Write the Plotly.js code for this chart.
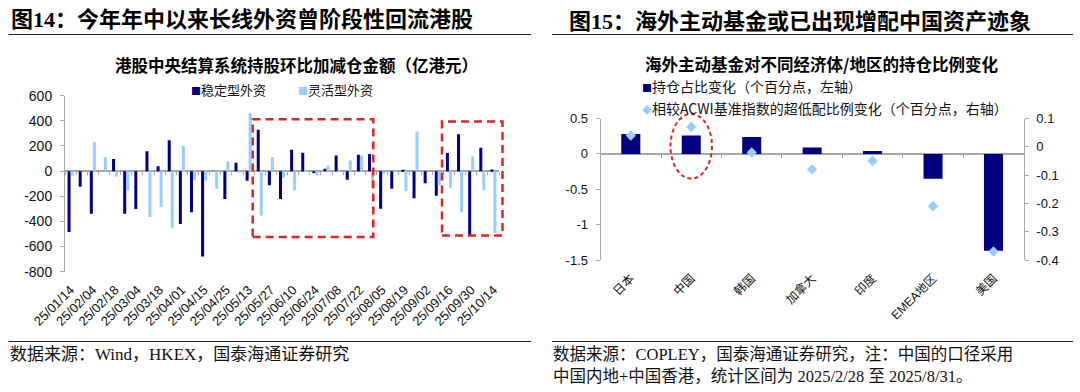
<!DOCTYPE html>
<html>
<head>
<meta charset="utf-8">
<script src="https://cdn.plot.ly/plotly-3.0.1.min.js"></script>
<style>
html,body{margin:0;padding:0;background:#ffffff;}
#chart{width:1080px;height:392px;}
</style>
</head>
<body>
<div id="chart"></div>
<script>
// ---------------- Left chart data (亿港元) ----------------
const dates = [
  '25/01/14','25/01/21','25/02/04','25/02/11','25/02/18','25/02/25','25/03/04','25/03/11',
  '25/03/18','25/03/25','25/04/01','25/04/08','25/04/15','25/04/17','25/04/25','25/05/06',
  '25/05/13','25/05/20','25/05/27','25/06/03','25/06/10','25/06/17','25/06/24','25/07/02',
  '25/07/08','25/07/15','25/07/22','25/07/29','25/08/05','25/08/12','25/08/19','25/08/26',
  '25/09/02','25/09/09','25/09/16','25/09/23','25/09/30','25/10/08','25/10/14'
];
const stableFlow = [
  -485, -125, -340, 0, 96, -340, -302, 158,
  38, 245, -420, -327, -680, 0, -222, 66,
  -76, 330, -112, -222, 171, 146, -16, 19,
  125, -69, 131, 136, -300, -141, 5, -215,
  -96, -196, 144, 293, -512, 186, 13
];
const flexibleFlow = [
  -36, 0, 231, 110, -42, -151, 0, -364,
  -287, -451, 200, -69, -74, -141, 77, -5,
  463, -353, 112, -53, -154, 5, -35, 42,
  9, 85, 125, -133, -25, 10, -160, 316,
  0, -113, -133, -327, 117, -152, -492
];
const leftYTickVals = [-800, -600, -400, -200, 0, 200, 400, 600];
const leftYTickText = ['-800', '-600', '-400', '-200', '0', '200', '400', '600'];
const labeledDates = dates.filter((d, i) => i % 2 === 0);

// ---------------- Right chart data (个百分点) ----------------
const regions = ['日本', '中国', '韩国', '加拿大', '印度', 'EMEA地区', '美国'];
const holdingChange = [0.28, 0.26, 0.24, 0.09, 0.04, -0.35, -1.37];
const overweightChange = [0.04, 0.07, -0.02, -0.08, -0.05, -0.21, -0.37];
const rightLeftTickVals = [-1.5, -1, -0.5, 0, 0.5];
const rightLeftTickText = ['-1.5', '-1', '-0.5', '0', '0.5'];
const rightRightTickVals = [-0.4, -0.3, -0.2, -0.1, 0, 0.1];
const rightRightTickText = ['-0.4', '-0.3', '-0.2', '-0.1', '0', '0.1'];

// ---------------- Geometry helpers ----------------
const W = 1080, H = 392;
const fx = p => p / W;
const fy = p => 1 - p / H;
const zeroPos = (dom, rng) => dom[0] + (0 - rng[0]) / (rng[1] - rng[0]) * (dom[1] - dom[0]);

const NAVY = '#000080';
const LIGHT = '#99CCFF';
const AXIS = '#A6A6A6';
const RED = '#E02424';
const SANS = 'Liberation Sans, Noto Sans CJK SC, sans-serif';
const CJK = 'Noto Sans CJK SC, Liberation Sans, sans-serif';
const SERIF = 'Liberation Serif, Noto Sans CJK SC, serif';

const leftXDom = [fx(65), fx(499)];
const leftYDom = [fy(271.7), fy(95.7)];
const leftYRange = [-800, 600];
const rightXDom = [fx(600.6), fx(1023.7)];
const rightYDom = [fy(260), fy(118.5)];
const rightYRange = [-1.5, 0.5];

const traces = [
  {type: 'bar', name: '稳定型外资', x: dates, y: stableFlow, xaxis: 'x', yaxis: 'y',
   marker: {color: NAVY}, hoverinfo: 'x+y+name'},
  {type: 'bar', name: '灵活型外资', x: dates, y: flexibleFlow, xaxis: 'x', yaxis: 'y',
   marker: {color: LIGHT}, hoverinfo: 'x+y+name'},
  // helper trace so the boundary-tick axis is drawn
  {type: 'scatter', mode: 'markers', x: dates, y: dates.map(() => null), xaxis: 'x3', yaxis: 'y',
   showlegend: false, hoverinfo: 'skip'},
  {type: 'bar', name: '持仓占比变化（个百分点，左轴）', x: regions, y: holdingChange,
   xaxis: 'x2', yaxis: 'y2', width: 0.315, marker: {color: NAVY}},
  {type: 'scatter', mode: 'markers', x: regions, y: regions.map(() => null), xaxis: 'x4', yaxis: 'y2',
   showlegend: false, hoverinfo: 'skip'},
  {type: 'scatter', mode: 'markers', name: '相较ACWI基准指数的超低配比例变化（个百分点，右轴）',
   x: regions, y: overweightChange, xaxis: 'x2', yaxis: 'y3',
   marker: {symbol: 'diamond', size: 8, color: LIGHT}}
];

const annotations = [
  {text: '<b>图14：今年年中以来长线外资曾阶段性回流港股</b>', x: fx(10), y: fy(20), xanchor: 'left', yanchor: 'middle',
   font: {family: SERIF, size: 22, color: '#000'}},
  {text: '<b>图15：海外主动基金或已出现增配中国资产迹象</b>', x: fx(568), y: fy(21), xanchor: 'left', yanchor: 'middle',
   font: {family: SERIF, size: 22, color: '#000'}},
  {text: '<b>港股中央结算系统持股环比加减仓金额（亿港元）</b>', x: fx(296), y: fy(64.5), xanchor: 'center', yanchor: 'middle',
   font: {family: CJK, size: 16.5, color: '#000'}},
  {text: '<b>海外主动基金对不同经济体/地区的持仓比例变化</b>', x: fx(821), y: fy(64), xanchor: 'center', yanchor: 'middle',
   font: {family: CJK, size: 16.5, color: '#000'}},
  {text: '<span style="color:' + NAVY + ';font-size:10px">■</span>稳定型外资', x: fx(190), y: fy(90), xanchor: 'left', yanchor: 'middle',
   font: {family: CJK, size: 13, color: '#111'}},
  {text: '<span style="color:' + LIGHT + ';font-size:10px">■</span>灵活型外资', x: fx(297), y: fy(90), xanchor: 'left', yanchor: 'middle',
   font: {family: CJK, size: 13, color: '#111'}},
  {text: '<span style="color:' + NAVY + ';font-size:10px">■</span>持仓占比变化（个百分点，左轴）', x: fx(641), y: fy(86), xanchor: 'left', yanchor: 'middle',
   font: {family: CJK, size: 14, color: '#111'}},
  {text: '<span style="color:' + LIGHT + ';font-size:10px">◆</span>相较ACWI基准指数的超低配比例变化（个百分点，右轴）', x: fx(641), y: fy(107.5), xanchor: 'left', yanchor: 'middle',
   font: {family: CJK, size: 14, color: '#111'}},
  {text: '数据来源：Wind，HKEX，国泰海通证券研究', x: fx(9), y: fy(354), xanchor: 'left', yanchor: 'middle',
   font: {family: SERIF, size: 17, color: '#111'}},
  {text: '数据来源：COPLEY，国泰海通证券研究，注：中国的口径采用', x: fx(552), y: fy(354), xanchor: 'left', yanchor: 'middle',
   font: {family: SERIF, size: 16.5, color: '#111'}},
  {text: '中国内地+中国香港，统计区间为 2025/2/28 至 2025/8/31。', x: fx(552), y: fy(376), xanchor: 'left', yanchor: 'middle',
   font: {family: SERIF, size: 16.5, color: '#111'}}
].map(a => Object.assign({xref: 'paper', yref: 'paper', showarrow: false, align: 'left', borderpad: 0}, a));

const shapes = [
  // title underlines
  {type: 'line', x0: fx(8.5), x1: fx(531), y0: fy(34.5), y1: fy(34.5), line: {color: '#222', width: 1}},
  {type: 'line', x0: fx(552), x1: fx(1073), y0: fy(34.5), y1: fy(34.5), line: {color: '#222', width: 1}},
  // footer lines
  {type: 'line', x0: fx(8.5), x1: fx(531), y0: fy(341.5), y1: fy(341.5), line: {color: '#222', width: 1}},
  {type: 'line', x0: fx(552), x1: fx(1073), y0: fy(341.5), y1: fy(341.5), line: {color: '#222', width: 1}},
  // red dashed highlight boxes (left chart)
  {type: 'rect', x0: fx(252.7), x1: fx(373.3), y0: fy(237), y1: fy(119.3), line: {color: RED, width: 2.5, dash: '8px,5px'}},
  {type: 'rect', x0: fx(442), x1: fx(502.5), y0: fy(235.5), y1: fy(121.5), line: {color: RED, width: 2.5, dash: '8px,5px'}},
  // red dashed ellipse (right chart, 中国)
  {type: 'circle', x0: fx(670.5), x1: fx(712), y0: fy(178.6), y1: fy(113.9), line: {color: RED, width: 2, dash: '4px,3px'}}
].map(s => Object.assign({xref: 'paper', yref: 'paper', layer: 'above'}, s));

const layout = {
  width: W, height: H,
  margin: {l: 0, r: 0, t: 0, b: 0, pad: 0},
  paper_bgcolor: '#ffffff', plot_bgcolor: 'rgba(0,0,0,0)',
  showlegend: false,
  barmode: 'group', bargap: 0.46, bargroupgap: 0,
  font: {family: SANS, color: '#111', size: 13},
  xaxis: {
    domain: leftXDom, anchor: 'y', type: 'category',
    categoryorder: 'array', categoryarray: dates, range: [-0.5, dates.length - 0.5],
    tickmode: 'array', tickvals: labeledDates, ticktext: labeledDates,
    tickangle: -45, tickfont: {family: SANS, size: 13, color: '#111'},
    ticks: '', ticklabelstandoff: 7,
    showline: false, showgrid: false, zeroline: false, fixedrange: true
  },
  xaxis3: {
    overlaying: 'x', anchor: 'free', position: zeroPos(leftYDom, leftYRange),
    type: 'category', categoryorder: 'array', categoryarray: dates, range: [-0.5, dates.length - 0.5],
    tickmode: 'linear', tick0: 0, dtick: 1, tickson: 'boundaries',
    ticks: 'outside', ticklen: 3, tickwidth: 1, tickcolor: AXIS,
    showticklabels: false, showline: false, showgrid: false, zeroline: false, fixedrange: true
  },
  yaxis: {
    domain: leftYDom, anchor: 'x', range: leftYRange,
    tickmode: 'array', tickvals: leftYTickVals, ticktext: leftYTickText,
    tickfont: {family: SANS, size: 14, color: '#111'},
    showline: true, linecolor: AXIS, linewidth: 1,
    ticks: 'outside', ticklen: 4, tickwidth: 1, tickcolor: AXIS, ticklabelstandoff: 5,
    showgrid: false, zeroline: true, zerolinecolor: AXIS, zerolinewidth: 2, fixedrange: true
  },
  xaxis2: {
    domain: rightXDom, anchor: 'y2', type: 'category',
    categoryorder: 'array', categoryarray: regions, range: [-0.5, regions.length - 0.5],
    tickangle: -45, tickfont: {family: SANS, size: 12, color: '#111'},
    ticks: '', ticklabelstandoff: 8,
    showline: false, showgrid: false, zeroline: false, fixedrange: true
  },
  xaxis4: {
    overlaying: 'x2', anchor: 'free', position: zeroPos(rightYDom, rightYRange),
    type: 'category', categoryorder: 'array', categoryarray: regions, range: [-0.5, regions.length - 0.5],
    tickmode: 'linear', tick0: 0, dtick: 1, tickson: 'boundaries',
    ticks: 'outside', ticklen: 3, tickwidth: 1, tickcolor: AXIS,
    showticklabels: false, showline: false, showgrid: false, zeroline: false, fixedrange: true
  },
  yaxis2: {
    domain: rightYDom, anchor: 'x2', range: rightYRange,
    tickmode: 'array', tickvals: rightLeftTickVals, ticktext: rightLeftTickText,
    tickfont: {family: SANS, size: 13, color: '#111'},
    showline: true, linecolor: AXIS, linewidth: 1,
    ticks: 'outside', ticklen: 4, tickwidth: 1, tickcolor: AXIS, ticklabelstandoff: 5,
    showgrid: false, zeroline: true, zerolinecolor: AXIS, zerolinewidth: 2, fixedrange: true
  },
  yaxis3: {
    overlaying: 'y2', side: 'right', anchor: 'x2', range: [-0.4, 0.1],
    tickmode: 'array', tickvals: rightRightTickVals, ticktext: rightRightTickText,
    tickfont: {family: SANS, size: 13, color: '#111'},
    showline: true, linecolor: AXIS, linewidth: 1,
    ticks: 'outside', ticklen: 4, tickwidth: 1, tickcolor: AXIS, ticklabelstandoff: 5,
    showgrid: false, zeroline: false, fixedrange: true
  },
  annotations: annotations,
  shapes: shapes
};

Plotly.newPlot('chart', traces, layout, {displayModeBar: false, responsive: false});
</script>
</body>
</html>
